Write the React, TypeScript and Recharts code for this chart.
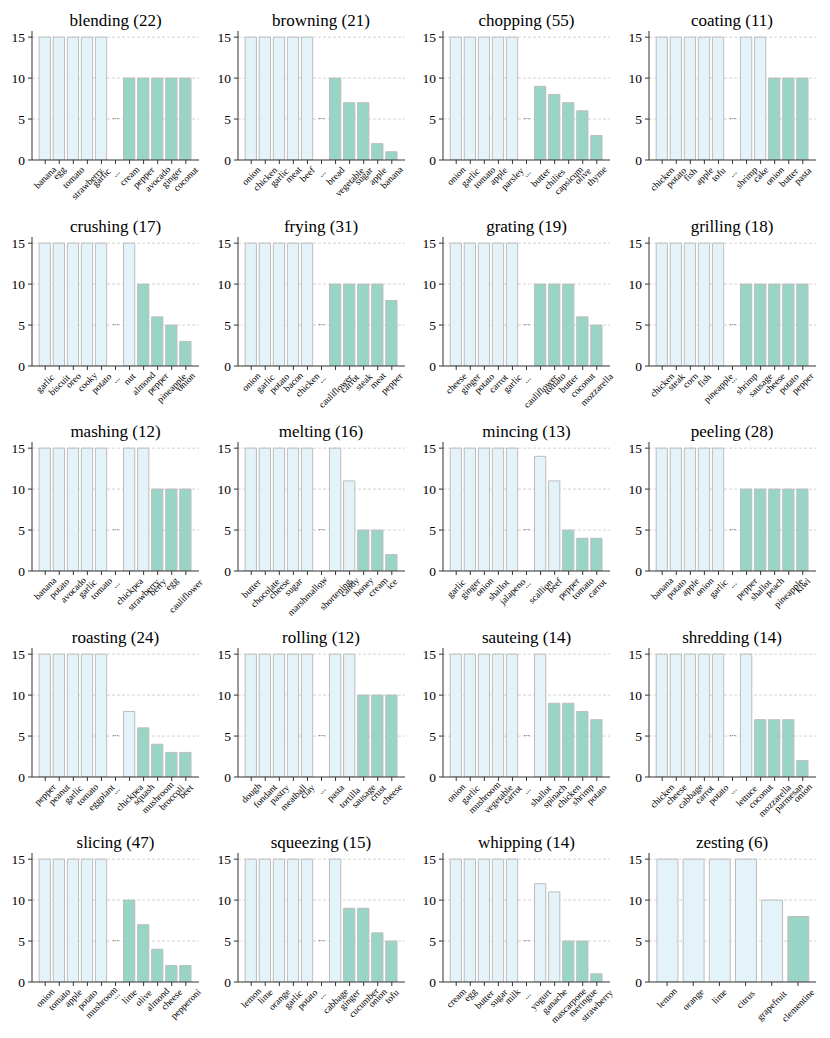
import { BarChart, Bar, XAxis, YAxis, CartesianGrid, Cell, ReferenceDot } from "recharts";

// ─── Data ──────────────────────────────────────────────────

const TITLES = [
  "blending", "browning", "chopping", "coating",
  "crushing", "frying", "grating", "grilling",
  "mashing", "melting", "mincing", "peeling",
  "roasting", "rolling", "sauteing", "shredding",
  "slicing", "squeezing", "whipping", "zesting",
];
const COUNTS = [22, 21, 55, 11, 17, 31, 19, 18, 12, 16, 13, 28, 24, 12, 14, 14, 47, 15, 14, 6];
// index of the first green bar in each panel
const GREEN_FROM = [6, 6, 6, 8, 7, 6, 6, 6, 8, 8, 8, 6, 7, 8, 7, 7, 6, 7, 8, 5];

const blendingLabels = ["banana", "egg", "tomato", "strawberry", "garlic", "...", "cream", "pepper", "avocado", "ginger", "coconut"];
const blendingValues = [15, 15, 15, 15, 15, null, 10, 10, 10, 10, 10];
const browningLabels = ["onion", "chicken", "garlic", "meat", "beef", "...", "bread", "vegetable", "sugar", "apple", "banana"];
const browningValues = [15, 15, 15, 15, 15, null, 10, 7, 7, 2, 1];
const choppingLabels = ["onion", "garlic", "tomato", "apple", "parsley", "...", "butter", "chilies", "capsicum", "olive", "thyme"];
const choppingValues = [15, 15, 15, 15, 15, null, 9, 8, 7, 6, 3];
const coatingLabels = ["chicken", "potato", "fish", "apple", "tofu", "...", "shrimp", "cake", "onion", "butter", "pasta"];
const coatingValues = [15, 15, 15, 15, 15, null, 15, 15, 10, 10, 10];
const crushingLabels = ["garlic", "biscuit", "oreo", "cooky", "potato", "...", "nut", "almond", "pepper", "pineapple", "onion"];
const crushingValues = [15, 15, 15, 15, 15, null, 15, 10, 6, 5, 3];
const fryingLabels = ["onion", "garlic", "potato", "bacon", "chicken", "...", "cauliflower", "carrot", "steak", "meat", "pepper"];
const fryingValues = [15, 15, 15, 15, 15, null, 10, 10, 10, 10, 8];
const gratingLabels = ["cheese", "ginger", "potato", "carrot", "garlic", "...", "cauliflower", "tomato", "butter", "coconut", "mozzarella"];
const gratingValues = [15, 15, 15, 15, 15, null, 10, 10, 10, 6, 5];
const grillingLabels = ["chicken", "steak", "corn", "fish", "pineapple", "...", "shrimp", "sausage", "cheese", "potato", "pepper"];
const grillingValues = [15, 15, 15, 15, 15, null, 10, 10, 10, 10, 10];
const mashingLabels = ["banana", "potato", "avocado", "garlic", "tomato", "...", "chickpea", "strawberry", "berry", "egg", "cauliflower"];
const mashingValues = [15, 15, 15, 15, 15, null, 15, 15, 10, 10, 10];
const meltingLabels = ["butter", "chocolate", "cheese", "sugar", "marshmallow", "...", "shortening", "candy", "honey", "cream", "ice"];
const meltingValues = [15, 15, 15, 15, 15, null, 15, 11, 5, 5, 2];
const mincingLabels = ["garlic", "ginger", "onion", "shallot", "jalapeno", "...", "scallion", "beef", "pepper", "tomato", "carrot"];
const mincingValues = [15, 15, 15, 15, 15, null, 14, 11, 5, 4, 4];
const peelingLabels = ["banana", "potato", "apple", "onion", "garlic", "...", "pepper", "shallot", "peach", "pineapple", "kiwi"];
const peelingValues = [15, 15, 15, 15, 15, null, 10, 10, 10, 10, 10];
const roastingLabels = ["pepper", "peanut", "garlic", "tomato", "eggplant", "...", "chickpea", "squash", "mushroom", "broccoli", "beet"];
const roastingValues = [15, 15, 15, 15, 15, null, 8, 6, 4, 3, 3];
const rollingLabels = ["dough", "fondant", "pastry", "meatball", "clay", "...", "pasta", "tortilla", "sausage", "crust", "cheese"];
const rollingValues = [15, 15, 15, 15, 15, null, 15, 15, 10, 10, 10];
const sauteingLabels = ["onion", "garlic", "mushroom", "vegetable", "carrot", "...", "shallot", "spinach", "chicken", "shrimp", "potato"];
const sauteingValues = [15, 15, 15, 15, 15, null, 15, 9, 9, 8, 7];
const shreddingLabels = ["chicken", "cheese", "cabbage", "carrot", "potato", "...", "lettuce", "coconut", "mozzarella", "parmesan", "onion"];
const shreddingValues = [15, 15, 15, 15, 15, null, 15, 7, 7, 7, 2];
const slicingLabels = ["onion", "tomato", "apple", "potato", "mushroom", "...", "lime", "olive", "almond", "cheese", "pepperoni"];
const slicingValues = [15, 15, 15, 15, 15, null, 10, 7, 4, 2, 2];
const squeezingLabels = ["lemon", "lime", "orange", "garlic", "potato", "...", "cabbage", "ginger", "cucumber", "onion", "tofu"];
const squeezingValues = [15, 15, 15, 15, 15, null, 15, 9, 9, 6, 5];
const whippingLabels = ["cream", "egg", "butter", "sugar", "milk", "...", "yogurt", "ganache", "mascarpone", "meringue", "strawberry"];
const whippingValues = [15, 15, 15, 15, 15, null, 12, 11, 5, 5, 1];
const zestingLabels = ["lemon", "orange", "lime", "citrus", "grapefruit", "clementine"];
const zestingValues = [15, 15, 15, 15, 10, 8];

const LABELS = [
  blendingLabels, browningLabels, choppingLabels, coatingLabels,
  crushingLabels, fryingLabels, gratingLabels, grillingLabels,
  mashingLabels, meltingLabels, mincingLabels, peelingLabels,
  roastingLabels, rollingLabels, sauteingLabels, shreddingLabels,
  slicingLabels, squeezingLabels, whippingLabels, zestingLabels,
];
const VALUES = [
  blendingValues, browningValues, choppingValues, coatingValues,
  crushingValues, fryingValues, gratingValues, grillingValues,
  mashingValues, meltingValues, mincingValues, peelingValues,
  roastingValues, rollingValues, sauteingValues, shreddingValues,
  slicingValues, squeezingValues, whippingValues, zestingValues,
];

const Y_TICKS = [0, 5, 10, 15];
const GRID_VALUES = [5, 10, 15];

// ─── Styling ──────────────────────────────────────────────

const FONT = "'Liberation Serif', 'DejaVu Serif', serif";
const LIGHT = "#e4f3f9";
const GREEN = "#98d5c6";
const EDGE = "#bdbdbd";
const AXIS = "#333333";

const PITCH = 205.5;
const PLOT_LEFT = 32;
const PLOT_TOP = 31;
const PLOT_W = 167;
const PLOT_H = 129;
const RIGHT = 14;
const X_AXIS_H = 54;
const TICK_FS = 9.5;

function RotatedTick(props: any) {
  const { x, y, payload } = props;
  const label = String(payload.value);
  const len = label.length * TICK_FS * 0.45;
  const off = 0.3536 * (len + TICK_FS * 0.7);
  const cy = y + off;
  return (
    <text
      x={x}
      y={cy}
      dy="0.33em"
      textAnchor="middle"
      transform={`rotate(-45 ${x} ${cy})`}
      fontSize={TICK_FS}
      fontFamily={FONT}
      fill="#000"
    >
      {label}
    </text>
  );
}

function Panel({ index }: { index: number }) {
  const labels = LABELS[index];
  const values = VALUES[index];
  const n = labels.length;
  const data = labels.map((label, i) => ({ label, value: values[i] }));

  // matplotlib-like spacing: bar width 0.8 units, 5% side margins
  const unit = PLOT_W / (1.1 * (n - 0.2));
  const pad = (PLOT_W - n * unit) / 2;
  const col = index % 4;
  const row = Math.floor(index / 4);
  const hasGap = labels.includes("...");
  const scaleY = (v: number) => PLOT_TOP + PLOT_H * (1 - v / 15.75);
  const w = PLOT_LEFT + PLOT_W + RIGHT;
  const h = PLOT_TOP + PLOT_H + X_AXIS_H;

  return (
    <div
      style={{
        position: "absolute",
        left: col * PITCH,
        top: row * PITCH,
        width: w,
        height: h,
      }}
    >
      <div
        style={{
          position: "absolute",
          left: PLOT_LEFT,
          width: PLOT_W,
          top: PLOT_TOP - 20,
          textAlign: "center",
          fontFamily: FONT,
          fontSize: 17,
          lineHeight: "20px",
          color: "#000",
          whiteSpace: "nowrap",
        }}
      >
        {TITLES[index]} ({COUNTS[index]})
      </div>
      <BarChart
        width={w}
        height={h}
        data={data}
        margin={{ top: PLOT_TOP, right: RIGHT, left: 0, bottom: 0 }}
      >
        <CartesianGrid
          vertical={false}
          horizontalPoints={GRID_VALUES.map(scaleY)}
          stroke="#c8c8c8"
          strokeDasharray="3 2"
          strokeWidth={0.8}
        />
        <XAxis
          dataKey="label"
          interval={0}
          height={X_AXIS_H}
          padding={{ left: pad, right: pad }}
          tickSize={4}
          tickMargin={2}
          tick={<RotatedTick />}
          stroke={AXIS}
          tickLine={{ stroke: AXIS }}
        />
        <YAxis
          width={PLOT_LEFT}
          domain={[0, 15.75]}
          ticks={Y_TICKS}
          tickSize={4}
          tickMargin={3}
          stroke={AXIS}
          tick={{ fontSize: 13.5, fontFamily: FONT, fill: "#000" }}
          allowDataOverflow
        />
        <Bar
          dataKey="value"
          barSize={unit * 0.8}
          stroke={EDGE}
          strokeWidth={1}
          isAnimationActive={false}
        >
          {data.map((d, i) => (
            <Cell key={d.label} fill={i >= GREEN_FROM[index] ? GREEN : LIGHT} />
          ))}
        </Bar>
        {hasGap && (
          <ReferenceDot
            x="..."
            y={5.4}
            r={0}
            fill="none"
            stroke="none"
            label={{ value: "...", position: "center", fontSize: 9, fontFamily: FONT, fill: "#333" }}
          />
        )}
      </BarChart>
    </div>
  );
}

export default function App() {
  return (
    <div
      style={{
        position: "absolute",
        left: 0,
        top: 0,
        width: 830,
        height: 1038,
        background: "#fff",
      }}
    >
      {TITLES.map((_, i) => (
        <Panel key={i} index={i} />
      ))}
    </div>
  );
}
